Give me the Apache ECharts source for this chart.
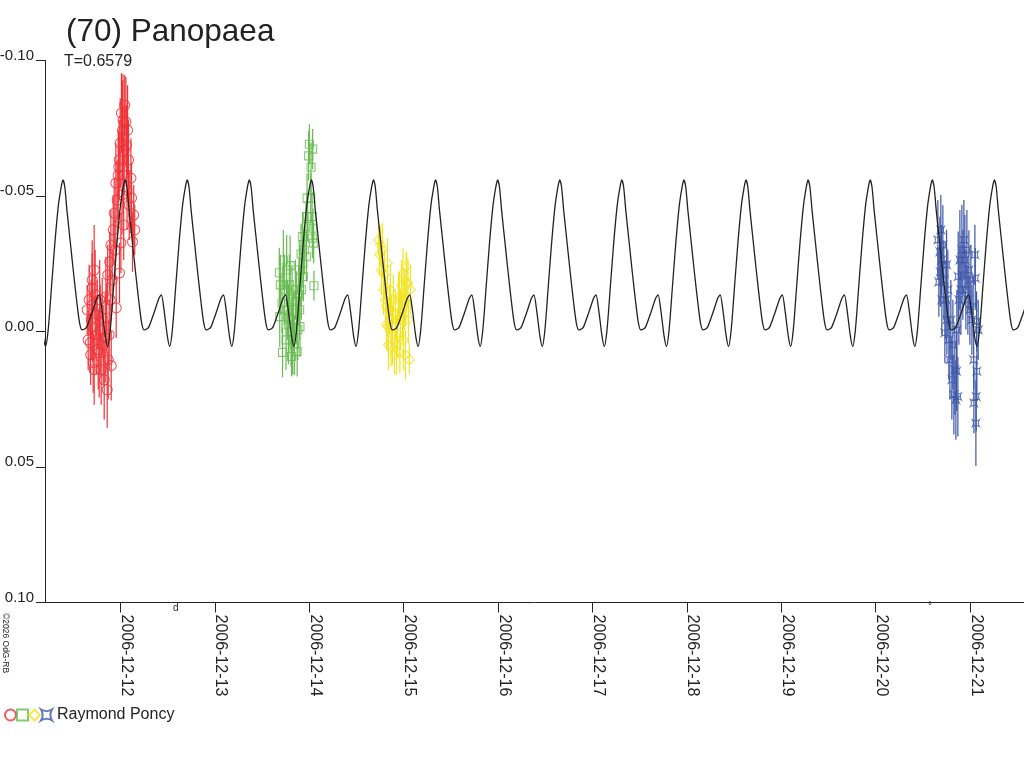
<!DOCTYPE html>
<html>
<head>
<meta charset="utf-8">
<script src="https://cdn.jsdelivr.net/npm/echarts@6/dist/echarts.min.js"></script>
<style>html,body{margin:0;padding:0;background:#fff;}#chart{width:1024px;height:768px;}</style>
</head>
<body>
<div id="chart"></div>
<script>
// ---- Data (time in days after 2006-12-12 00:00 UT, magnitude, error) ----
const titleText = '(70) Panopaea';
const periodText = 'T=0.6579';
const observer = 'Raymond Poncy';
const dateLabels = ['2006-12-12','2006-12-13','2006-12-14','2006-12-15','2006-12-16','2006-12-17','2006-12-18','2006-12-19','2006-12-20','2006-12-21'];
const dateTicks = [0,1,2,3,4,5,6,7,8,9];
const yTicks = [-0.10,-0.05,0.00,0.05,0.10];

// model light curve: period (days), epoch of main maximum, one-period profile
const period = 0.6579;
const epochMax = 0.0475;
const profilePhase = [0,0.03,0.065,0.118,0.172,0.226,0.269,0.306,0.35,0.387,0.468,0.548,0.586,0.629,0.683,0.72,0.763,0.817,0.871,0.925,0.97];
const profileMag   = [-0.0559,-0.0535,-0.0448,-0.0332,-0.0215,-0.0105,-0.0031,-0.0006,-0.0009,-0.0018,-0.0069,-0.0124,-0.0135,-0.0080,0.0018,0.0055,-0.0006,-0.0166,-0.0327,-0.0461,-0.0530];

// session 1 (red circles)
const s1Time = [-0.3531,-0.3425,-0.3319,-0.3213,-0.3160,-0.3107,-0.3001,-0.3001,-0.3001,-0.2948,-0.2895,-0.2789,-0.2683,-0.2577,-0.2471,-0.2365,-0.2259,-0.2206,-0.2153,-0.2047,-0.1941,-0.1834,-0.1728,-0.1622,-0.1548,-0.1463,-0.1410,-0.1304,-0.1198,-0.1092,-0.0986,-0.1357,-0.1145,-0.1018,-0.0880,-0.0774,-0.0668,-0.0562,-0.0488,-0.0456,-0.0350,-0.0244,-0.0138,-0.0106,-0.0180,-0.0032,0.0042,0.0095,0.0159,0.0223,0.0286,0.0339,0.0392,0.0265,0.0445,0.0573,0.0626,0.0689,0.0753,0.0848,0.0923,0.1103,0.1166,0.1272,0.1400,0.1506,-0.2789];
const s1Mag  = [-0.0080,0.0031,-0.0117,0.0042,0.0086,-0.0043,-0.0190,-0.0161,-0.0098,-0.0017,0.0115,0.0141,-0.0135,0.0012,-0.0062,0.0067,0.0078,-0.0117,-0.0006,0.0141,-0.0050,0.0049,0.0178,0.0023,-0.0128,-0.0050,0.0215,0.0104,0.0012,-0.0117,0.0126,-0.0209,-0.0257,-0.0319,-0.0190,-0.0375,-0.0437,-0.0301,-0.0548,-0.0087,-0.0485,-0.0577,-0.0633,-0.0216,-0.0607,-0.0695,-0.0327,-0.0806,-0.0504,-0.0743,-0.0577,-0.0393,-0.0670,-0.0780,-0.0835,-0.0773,-0.0688,-0.0522,-0.0743,-0.0633,-0.0467,-0.0566,-0.0493,-0.0331,-0.0430,-0.0375,-0.0227];
const s1Err  = [0.0092,0.0111,0.0129,0.0111,0.0111,0.0147,0.0147,0.0129,0.0111,0.0129,0.0111,0.0129,0.0166,0.0147,0.0129,0.0147,0.0166,0.0147,0.0166,0.0129,0.0147,0.0147,0.0147,0.0166,0.0147,0.0129,0.0140,0.0147,0.0129,0.0111,0.0129,0.0111,0.0111,0.0129,0.0111,0.0129,0.0129,0.0111,0.0147,0.0111,0.0147,0.0166,0.0147,0.0111,0.0129,0.0166,0.0111,0.0147,0.0147,0.0184,0.0147,0.0129,0.0166,0.0170,0.0111,0.0166,0.0147,0.0147,0.0166,0.0147,0.0129,0.0147,0.0129,0.0111,0.0111,0.0092,0.0166];

// session 2 (green squares)
const s2Time = [1.6829,1.6935,1.6871,1.7115,1.7168,1.7253,1.7359,1.7539,1.7603,1.7677,1.7783,1.7889,1.7974,1.7847,1.8069,1.8122,1.8175,1.8239,1.8313,1.8419,1.8525,1.8663,1.8716,1.8790,1.8875,1.8949,1.8981,1.9013,1.9130,1.9161,1.9299,1.9331,1.9374,1.9480,1.9660,1.9692,1.9766,1.9829,1.9936,2.0010,2.0190,2.0158,2.0296,2.0360,2.0392,2.0328,2.0466,2.0498];
const s2Mag  = [-0.0217,-0.0172,-0.0055,-0.0105,0.0077,-0.0264,-0.0154,0.0031,-0.0227,-0.0080,-0.0025,-0.0172,-0.0243,-0.0049,0.0000,0.0092,-0.0117,0.0031,-0.0043,0.0049,-0.0154,-0.0111,0.0074,-0.0006,-0.0135,-0.0227,-0.0080,-0.0018,-0.0286,-0.0154,-0.0350,-0.0252,-0.0203,-0.0301,-0.0387,-0.0276,-0.0492,-0.0424,-0.0648,-0.0691,-0.0606,-0.0492,-0.0424,-0.0673,-0.0381,-0.0344,-0.0326,-0.0169];
const s2Err  = [0.0092,0.0111,0.0111,0.0111,0.0092,0.0111,0.0129,0.0111,0.0129,0.0111,0.0147,0.0111,0.0111,0.0129,0.0129,0.0074,0.0129,0.0129,0.0111,0.0111,0.0111,0.0111,0.0092,0.0111,0.0111,0.0111,0.0111,0.0111,0.0111,0.0111,0.0092,0.0092,0.0092,0.0092,0.0092,0.0092,0.0092,0.0092,0.0092,0.0074,0.0092,0.0092,0.0092,0.0074,0.0074,0.0074,0.0074,0.0055];

// session 3 (yellow diamonds)
const s3Time = [2.7327,2.7433,2.7539,2.7645,2.7751,2.7857,2.7963,2.8069,2.8122,2.8175,2.8281,2.8334,2.8387,2.8493,2.8599,2.8673,2.8726,2.8811,2.8917,2.9023,2.9129,2.9235,2.9341,2.9447,2.9553,2.9596,2.9659,2.9765,2.9871,2.9935,2.9977,3.0083,3.0189,3.0264,3.0221,3.0327,3.0455,3.0508,3.0614,3.0720];
const s3Mag  = [-0.0338,-0.0283,-0.0319,-0.0227,-0.0301,-0.0154,-0.0209,-0.0117,-0.0092,-0.0025,-0.0253,-0.0018,0.0049,-0.0080,-0.0154,0.0055,-0.0043,0.0012,-0.0117,0.0086,-0.0062,0.0049,0.0005,-0.0117,-0.0129,0.0080,-0.0043,-0.0172,-0.0055,-0.0215,0.0031,-0.0117,0.0086,-0.0240,-0.0111,-0.0179,-0.0178,-0.0043,0.0104,-0.0154];
const s3Err  = [0.0055,0.0074,0.0074,0.0092,0.0099,0.0092,0.0092,0.0092,0.0092,0.0092,0.0092,0.0092,0.0092,0.0092,0.0092,0.0074,0.0092,0.0111,0.0092,0.0074,0.0092,0.0111,0.0092,0.0092,0.0092,0.0074,0.0111,0.0092,0.0092,0.0092,0.0111,0.0111,0.0092,0.0055,0.0092,0.0111,0.0092,0.0092,0.0055,0.0092];

// session 4 (blue stars)
const s4Time = [8.6603,8.6709,8.6815,8.6868,8.6921,8.6995,8.7027,8.7133,8.7239,8.7345,8.7451,8.7525,8.7557,8.7663,8.7769,8.7875,8.7981,8.8087,8.8193,8.8300,8.8406,8.8512,8.8586,8.8618,8.8756,8.8724,8.8830,8.8936,8.9042,8.9148,8.9254,8.9360,8.9466,8.9572,8.9678,8.9784,8.9890,8.9996,9.0102,9.0208,9.0346,9.0399,9.0420,9.0526,9.0568,9.0632,9.0707,9.0739,9.0665,9.0876];
const s4Mag  = [-0.0338,-0.0183,-0.0294,-0.0220,-0.0375,-0.0264,-0.0117,-0.0319,-0.0190,0.0005,-0.0117,-0.0246,-0.0043,-0.0154,0.0031,0.0104,-0.0043,0.0178,0.0049,0.0233,0.0141,0.0252,0.0147,-0.0006,-0.0203,0.0240,-0.0117,-0.0264,-0.0154,-0.0301,-0.0209,-0.0338,-0.0264,-0.0154,-0.0301,-0.0117,-0.0227,-0.0080,-0.0190,-0.0043,-0.0092,0.0104,0.0264,-0.0283,-0.0197,0.0338,-0.0037,0.0147,0.0240,-0.0006];
const s4Err  = [0.0147,0.0129,0.0129,0.0129,0.0129,0.0129,0.0129,0.0147,0.0147,0.0111,0.0147,0.0129,0.0129,0.0147,0.0147,0.0147,0.0147,0.0147,0.0166,0.0147,0.0166,0.0147,0.0147,0.0147,0.0166,0.0147,0.0166,0.0184,0.0166,0.0166,0.0166,0.0147,0.0166,0.0147,0.0147,0.0129,0.0147,0.0129,0.0129,0.0129,0.0111,0.0111,0.0111,0.0111,0.0111,0.0158,0.0111,0.0111,0.0129,0.0111];

// ---- Build chart ----
const FONT = "'Liberation Sans', Arial, sans-serif";
const TEXT = '#222';
const xMin = -0.8, xMax = 9.573;

const curve = [];
for (let k = -2; k <= 14; k++) {
  for (let i = 0; i < profilePhase.length; i++) {
    curve.push([epochMax + (k + profilePhase[i]) * period, profileMag[i]]);
  }
}

const starPath = 'path://M0,0 Q5,3 10,0 Q7,5 10,10 Q5,7 0,10 Q3,5 0,0 Z';
const sessions = [
  {name: 's1', t: s1Time, m: s1Mag, e: s1Err, color: '#ee3338', symbol: 'circle', size: 10},
  {name: 's2', t: s2Time, m: s2Mag, e: s2Err, color: '#66bb4f', symbol: 'rect', size: 8},
  {name: 's3', t: s3Time, m: s3Mag, e: s3Err, color: '#f2e424', symbol: 'diamond', size: 10},
  {name: 's4', t: s4Time, m: s4Mag, e: s4Err, color: '#3d57a8', symbol: starPath, size: 7}
];

const series = [];
sessions.forEach(s => {
  const rows = s.t.map((t, i) => [t, s.m[i], s.e[i]]);
  series.push({
    type: 'custom', name: s.name + '-err', z: 2, silent: true,
    data: rows, encode: {x: 0, y: 1},
    renderItem: function (params, api) {
      const x = api.value(0), y = api.value(1), e = api.value(2);
      const p1 = api.coord([x, y - e]);
      const p2 = api.coord([x, y + e]);
      return {type: 'line', shape: {x1: p1[0], y1: p1[1], x2: p2[0], y2: p2[1]},
              style: {stroke: s.color, lineWidth: 1.2}};
    }
  });
  series.push({
    type: 'scatter', name: s.name, z: 3,
    data: rows.map(r => [r[0], r[1]]),
    symbol: s.symbol, symbolSize: s.size,
    itemStyle: {color: 'rgba(0,0,0,0)', borderColor: s.color, borderWidth: 1.1}
  });
});
series.push({
  type: 'line', name: 'model', z: 5, data: curve, showSymbol: false, smooth: 0.25,
  lineStyle: {color: '#222', width: 1.3}, clip: true
});

const chart = echarts.init(document.getElementById('chart'), null, {renderer: 'canvas'});
chart.setOption({
  animation: false,
  backgroundColor: '#fff',
  title: [
    {text: titleText, left: 61, top: 11, textStyle: {fontFamily: FONT, fontSize: 31.5, fontWeight: 'normal', color: TEXT}},
    {text: periodText, left: 59, top: 49, textStyle: {fontFamily: FONT, fontSize: 16, fontWeight: 'normal', color: TEXT}}
  ],
  grid: {left: 45, right: 0, top: 60.5, bottom: 165.5, containLabel: false, outerBoundsMode: 'none'},
  legend: {
    data: ['s1','s2','s3','s4'], left: 4, top: 707, padding: 0, itemGap: -1, itemWidth: 11, itemHeight: 11,
    formatter: n => n === 's4' ? observer : '',
    textStyle: {fontFamily: FONT, fontSize: 16, color: TEXT}, selectedMode: false
  },
  xAxis: {
    type: 'value', min: xMin, max: xMax,
    axisLine: {onZero: false, lineStyle: {color: TEXT, width: 1}},
    axisTick: {show: true, length: 10, lineStyle: {color: TEXT}, customValues: dateTicks},
    axisLabel: {
      customValues: dateTicks, rotate: -90, margin: 12, verticalAlign: 'bottom', lineHeight: 12,
      fontFamily: FONT, fontSize: 16, color: TEXT,
      formatter: v => dateLabels[Math.round(v)]
    },
    splitLine: {show: false}
  },
  yAxis: {
    type: 'value', inverse: true, min: -0.10, max: 0.10, interval: 0.05,
    axisLine: {show: true, onZero: false, lineStyle: {color: TEXT, width: 1}},
    axisTick: {show: true, length: 9, lineStyle: {color: TEXT}},
    axisLabel: {
      margin: 11, fontFamily: FONT, fontSize: 15, color: TEXT,
      verticalAlign: 'bottom', lineHeight: 10,
      formatter: v => v.toFixed(2)
    },
    splitLine: {show: false}
  },
  graphic: [
    {type: 'text', left: 0.5, top: 613, rotation: -Math.PI / 2,
     style: {text: '\u00a92026 OdG-RB', fontFamily: FONT, fontSize: 8.5, fill: TEXT}},
    {type: 'text', x: 173, y: 603, style: {text: 'd', fontFamily: FONT, fontSize: 10, fill: TEXT}},
    {type: 'text', x: 928, y: 601, style: {text: '\u00b0', fontFamily: FONT, fontSize: 10, fill: TEXT}}
  ],
  series: series
});
</script>
</body>
</html>
